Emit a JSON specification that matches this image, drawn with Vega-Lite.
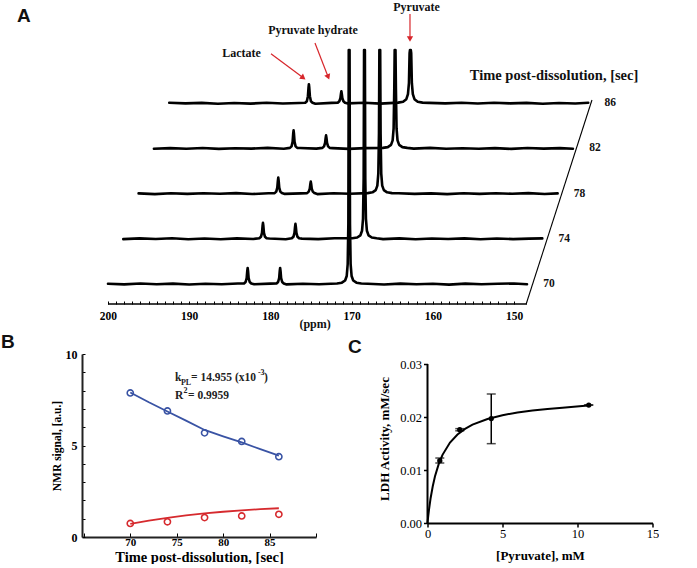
{
"$schema":"https://vega.github.io/schema/vega-lite/v6.json",
"background":"white",
"padding":{"left":1,"top":0,"right":0,"bottom":0},
"config":{"view":{"stroke":null},"font":"Liberation Serif","axis":{"domainColor":"black","tickColor":"black","labelColor":"black","titleColor":"black","grid":false,"labelFont":"Liberation Serif","titleFont":"Liberation Serif","labelOverlap":false}},
"datasets":{
"spec":[
{"t":70,"p":200,"i":0.3},{"t":70,"p":198,"i":-0.4},{"t":70,"p":196,"i":0.5},{"t":70,"p":194,"i":-0.2},{"t":70,"p":192,"i":0.4},{"t":70,"p":190,"i":-0.5},{"t":70,"p":188,"i":0.2},{"t":70,"p":186,"i":-0.3},{"t":70,"p":184,"i":0.5},
{"t":70,"p":183.25,"i":0.5},{"t":70,"p":183.05,"i":2},{"t":70,"p":182.92,"i":6},{"t":70,"p":182.85,"i":12.8},{"t":70,"p":182.8,"i":16},{"t":70,"p":182.75,"i":12.8},{"t":70,"p":182.68,"i":6},{"t":70,"p":182.55,"i":2},{"t":70,"p":182.35,"i":0.5},
{"t":70,"p":182,"i":-0.2},{"t":70,"p":180,"i":0.4},
{"t":70,"p":179.25,"i":0.5},{"t":70,"p":179.05,"i":2},{"t":70,"p":178.92,"i":6},{"t":70,"p":178.85,"i":12.8},{"t":70,"p":178.8,"i":16},{"t":70,"p":178.75,"i":12.8},{"t":70,"p":178.68,"i":6},{"t":70,"p":178.55,"i":2},{"t":70,"p":178.35,"i":0.5},
{"t":70,"p":178,"i":-0.4},{"t":70,"p":176,"i":0.2},{"t":70,"p":174,"i":-0.3},
{"t":70,"p":171.8,"i":0.5},{"t":70,"p":171.2,"i":1.3},{"t":70,"p":170.8,"i":3.5},{"t":70,"p":170.6,"i":8},{"t":70,"p":170.48,"i":20},{"t":70,"p":170.4,"i":60},{"t":70,"p":170.35,"i":250},{"t":70,"p":170.3,"i":1000},{"t":70,"p":170.25,"i":250},{"t":70,"p":170.2,"i":60},{"t":70,"p":170.12,"i":20},{"t":70,"p":170,"i":8},{"t":70,"p":169.8,"i":3.5},{"t":70,"p":169.4,"i":1.3},{"t":70,"p":168.8,"i":0.5},
{"t":70,"p":168,"i":0.3},{"t":70,"p":166,"i":-0.5},{"t":70,"p":164,"i":0.4},{"t":70,"p":162,"i":-0.2},{"t":70,"p":160,"i":0.3},{"t":70,"p":158,"i":-0.6},{"t":70,"p":156,"i":0.4},{"t":70,"p":154,"i":-0.3},{"t":70,"p":152,"i":0.2},{"t":70,"p":150,"i":0.5},{"t":70,"p":148.4,"i":-0.2},

{"t":74,"p":200,"i":-0.3},{"t":74,"p":198,"i":0.4},{"t":74,"p":196,"i":-0.2},{"t":74,"p":194,"i":0.5},{"t":74,"p":192,"i":-0.4},{"t":74,"p":190,"i":0.3},{"t":74,"p":188,"i":-0.5},{"t":74,"p":186,"i":0.4},{"t":74,"p":184,"i":-0.2},
{"t":74,"p":183.25,"i":0.5},{"t":74,"p":183.05,"i":2},{"t":74,"p":182.92,"i":6},{"t":74,"p":182.85,"i":12.8},{"t":74,"p":182.8,"i":16},{"t":74,"p":182.75,"i":12.8},{"t":74,"p":182.68,"i":6},{"t":74,"p":182.55,"i":2},{"t":74,"p":182.35,"i":0.5},
{"t":74,"p":182,"i":0.3},{"t":74,"p":180,"i":-0.4},
{"t":74,"p":179.25,"i":0.5},{"t":74,"p":179.05,"i":2},{"t":74,"p":178.92,"i":6},{"t":74,"p":178.85,"i":12},{"t":74,"p":178.8,"i":15},{"t":74,"p":178.75,"i":12},{"t":74,"p":178.68,"i":6},{"t":74,"p":178.55,"i":2},{"t":74,"p":178.35,"i":0.5},
{"t":74,"p":178,"i":0.2},{"t":74,"p":176,"i":-0.3},{"t":74,"p":174,"i":0.5},
{"t":74,"p":171.8,"i":0.5},{"t":74,"p":171.2,"i":1.3},{"t":74,"p":170.8,"i":3.5},{"t":74,"p":170.6,"i":8},{"t":74,"p":170.48,"i":20},{"t":74,"p":170.4,"i":60},{"t":74,"p":170.35,"i":250},{"t":74,"p":170.3,"i":1000},{"t":74,"p":170.25,"i":250},{"t":74,"p":170.2,"i":60},{"t":74,"p":170.12,"i":20},{"t":74,"p":170,"i":8},{"t":74,"p":169.8,"i":3.5},{"t":74,"p":169.4,"i":1.3},{"t":74,"p":168.8,"i":0.5},
{"t":74,"p":168,"i":-0.3},{"t":74,"p":166,"i":0.4},{"t":74,"p":164,"i":-0.5},{"t":74,"p":162,"i":0.3},{"t":74,"p":160,"i":-0.2},{"t":74,"p":158,"i":0.4},{"t":74,"p":156,"i":-0.4},{"t":74,"p":154,"i":0.3},{"t":74,"p":152,"i":-0.3},{"t":74,"p":150,"i":0.2},{"t":74,"p":148.4,"i":0.4},

{"t":78,"p":200,"i":0.2},{"t":78,"p":198,"i":-0.5},{"t":78,"p":196,"i":0.4},{"t":78,"p":194,"i":-0.3},{"t":78,"p":192,"i":0.3},{"t":78,"p":190,"i":-0.2},{"t":78,"p":188,"i":0.5},{"t":78,"p":186,"i":-0.4},{"t":78,"p":184,"i":0.3},
{"t":78,"p":183.25,"i":0.5},{"t":78,"p":183.05,"i":2},{"t":78,"p":182.92,"i":6},{"t":78,"p":182.85,"i":12.8},{"t":78,"p":182.8,"i":16},{"t":78,"p":182.75,"i":12.8},{"t":78,"p":182.68,"i":6},{"t":78,"p":182.55,"i":2},{"t":78,"p":182.35,"i":0.5},
{"t":78,"p":182,"i":-0.3},{"t":78,"p":180,"i":0.2},
{"t":78,"p":179.25,"i":0.5},{"t":78,"p":179.05,"i":2},{"t":78,"p":178.92,"i":5},{"t":78,"p":178.85,"i":9.6},{"t":78,"p":178.8,"i":12},{"t":78,"p":178.75,"i":9.6},{"t":78,"p":178.68,"i":5},{"t":78,"p":178.55,"i":2},{"t":78,"p":178.35,"i":0.5},
{"t":78,"p":178,"i":-0.5},{"t":78,"p":176,"i":0.4},{"t":78,"p":174,"i":-0.2},
{"t":78,"p":171.8,"i":0.5},{"t":78,"p":171.2,"i":1.3},{"t":78,"p":170.8,"i":3.5},{"t":78,"p":170.6,"i":8},{"t":78,"p":170.48,"i":20},{"t":78,"p":170.4,"i":60},{"t":78,"p":170.35,"i":250},{"t":78,"p":170.3,"i":1000},{"t":78,"p":170.25,"i":250},{"t":78,"p":170.2,"i":60},{"t":78,"p":170.12,"i":20},{"t":78,"p":170,"i":8},{"t":78,"p":169.8,"i":3.5},{"t":78,"p":169.4,"i":1.3},{"t":78,"p":168.8,"i":0.5},
{"t":78,"p":168,"i":0.4},{"t":78,"p":166,"i":-0.3},{"t":78,"p":164,"i":0.2},{"t":78,"p":162,"i":-0.5},{"t":78,"p":160,"i":0.4},{"t":78,"p":158,"i":-0.3},{"t":78,"p":156,"i":0.3},{"t":78,"p":154,"i":-0.2},{"t":78,"p":152,"i":0.5},{"t":78,"p":150,"i":-0.4},{"t":78,"p":148.4,"i":0.2},

{"t":82,"p":200,"i":-0.4},{"t":82,"p":198,"i":0.3},{"t":82,"p":196,"i":-0.3},{"t":82,"p":194,"i":0.4},{"t":82,"p":192,"i":-0.5},{"t":82,"p":190,"i":0.2},{"t":82,"p":188,"i":-0.2},{"t":82,"p":186,"i":0.5},{"t":82,"p":184,"i":-0.3},
{"t":82,"p":183.25,"i":0.5},{"t":82,"p":183.05,"i":2},{"t":82,"p":182.92,"i":6.5},{"t":82,"p":182.85,"i":14.4},{"t":82,"p":182.8,"i":18},{"t":82,"p":182.75,"i":14.4},{"t":82,"p":182.68,"i":6.5},{"t":82,"p":182.55,"i":2},{"t":82,"p":182.35,"i":0.5},
{"t":82,"p":182,"i":0.4},{"t":82,"p":180,"i":-0.2},
{"t":82,"p":179.25,"i":0.5},{"t":82,"p":179.05,"i":2},{"t":82,"p":178.92,"i":5.5},{"t":82,"p":178.85,"i":10.4},{"t":82,"p":178.8,"i":13},{"t":82,"p":178.75,"i":10.4},{"t":82,"p":178.68,"i":5.5},{"t":82,"p":178.55,"i":2},{"t":82,"p":178.35,"i":0.5},
{"t":82,"p":178,"i":0.3},{"t":82,"p":176,"i":-0.5},{"t":82,"p":174,"i":0.3},
{"t":82,"p":171.8,"i":0.5},{"t":82,"p":171.2,"i":1.3},{"t":82,"p":170.8,"i":3.5},{"t":82,"p":170.6,"i":8},{"t":82,"p":170.48,"i":20},{"t":82,"p":170.4,"i":60},{"t":82,"p":170.35,"i":250},{"t":82,"p":170.3,"i":1000},{"t":82,"p":170.25,"i":250},{"t":82,"p":170.2,"i":60},{"t":82,"p":170.12,"i":20},{"t":82,"p":170,"i":8},{"t":82,"p":169.8,"i":3.5},{"t":82,"p":169.4,"i":1.3},{"t":82,"p":168.8,"i":0.5},
{"t":82,"p":168,"i":-0.2},{"t":82,"p":166,"i":0.5},{"t":82,"p":164,"i":-0.3},{"t":82,"p":162,"i":0.2},{"t":82,"p":160,"i":-0.4},{"t":82,"p":158,"i":0.3},{"t":82,"p":156,"i":-0.5},{"t":82,"p":154,"i":0.4},{"t":82,"p":152,"i":-0.2},{"t":82,"p":150,"i":0.3},{"t":82,"p":148.4,"i":-0.3},

{"t":86,"p":200,"i":0.4},{"t":86,"p":198,"i":-0.2},{"t":86,"p":196,"i":0.3},{"t":86,"p":194,"i":-0.5},{"t":86,"p":192,"i":0.2},{"t":86,"p":190,"i":-0.4},{"t":86,"p":188,"i":0.4},{"t":86,"p":186,"i":-0.3},{"t":86,"p":184,"i":0.2},
{"t":86,"p":183.25,"i":0.5},{"t":86,"p":183.05,"i":2},{"t":86,"p":182.92,"i":7},{"t":86,"p":182.85,"i":15.2},{"t":86,"p":182.8,"i":19},{"t":86,"p":182.75,"i":15.2},{"t":86,"p":182.68,"i":7},{"t":86,"p":182.55,"i":2},{"t":86,"p":182.35,"i":0.5},
{"t":86,"p":182,"i":-0.5},{"t":86,"p":180,"i":0.3},
{"t":86,"p":179.25,"i":0.5},{"t":86,"p":179.05,"i":2},{"t":86,"p":178.92,"i":5},{"t":86,"p":178.85,"i":9.6},{"t":86,"p":178.8,"i":12},{"t":86,"p":178.75,"i":9.6},{"t":86,"p":178.68,"i":5},{"t":86,"p":178.55,"i":2},{"t":86,"p":178.35,"i":0.5},
{"t":86,"p":178,"i":-0.2},{"t":86,"p":176,"i":0.4},{"t":86,"p":174,"i":-0.4},
{"t":86,"p":171.8,"i":0.6},{"t":86,"p":171.2,"i":1.5},{"t":86,"p":170.8,"i":4},{"t":86,"p":170.6,"i":9},{"t":86,"p":170.48,"i":20},{"t":86,"p":170.4,"i":50},{"t":86,"p":170.35,"i":200},{"t":86,"p":170.3,"i":1000},{"t":86,"p":170.25,"i":200},{"t":86,"p":170.2,"i":50},{"t":86,"p":170.12,"i":20},{"t":86,"p":170,"i":9},{"t":86,"p":169.8,"i":4},{"t":86,"p":169.4,"i":1.5},{"t":86,"p":168.8,"i":0.6},
{"t":86,"p":168,"i":0.3},{"t":86,"p":166,"i":-0.2},{"t":86,"p":164,"i":0.5},{"t":86,"p":162,"i":-0.3},{"t":86,"p":160,"i":0.4},{"t":86,"p":158,"i":-0.2},{"t":86,"p":156,"i":0.3},{"t":86,"p":154,"i":-0.5},{"t":86,"p":152,"i":0.2},{"t":86,"p":150,"i":-0.3},{"t":86,"p":148.4,"i":0.4}
],
"times":[{"t":70},{"t":74},{"t":78},{"t":82},{"t":86}],
"fitB":[
{"s":"Pyruvate","t":70,"v":7.9},{"s":"Pyruvate","t":72,"v":7.36},{"s":"Pyruvate","t":74,"v":6.86},{"s":"Pyruvate","t":76,"v":6.36},{"s":"Pyruvate","t":78,"v":5.85},{"s":"Pyruvate","t":80,"v":5.5},{"s":"Pyruvate","t":82,"v":5.17},{"s":"Pyruvate","t":84,"v":4.8},{"s":"Pyruvate","t":86,"v":4.45},
{"s":"Lactate","t":70,"v":0.72},{"s":"Lactate","t":72,"v":0.9},{"s":"Lactate","t":74,"v":1.05},{"s":"Lactate","t":76,"v":1.18},{"s":"Lactate","t":78,"v":1.29},{"s":"Lactate","t":80,"v":1.38},{"s":"Lactate","t":82,"v":1.46},{"s":"Lactate","t":84,"v":1.52},{"s":"Lactate","t":86,"v":1.57}
],
"obsB":[
{"s":"Pyruvate","t":70,"v":7.87},{"s":"Pyruvate","t":74,"v":6.89},{"s":"Pyruvate","t":78,"v":5.69},{"s":"Pyruvate","t":82,"v":5.22},{"s":"Pyruvate","t":86,"v":4.39},
{"s":"Lactate","t":70,"v":0.74},{"s":"Lactate","t":74,"v":0.83},{"s":"Lactate","t":78,"v":1.06},{"s":"Lactate","t":82,"v":1.15},{"s":"Lactate","t":86,"v":1.24}
],
"curveC":[
{"s":0,"v":0},{"s":0.05,"v":0.00132},{"s":0.1,"v":0.0025},{"s":0.2,"v":0.00457},{"s":0.35,"v":0.00694},{"s":0.5,"v":0.00881},{"s":0.75,"v":0.01116},{"s":1,"v":0.01286},{"s":1.5,"v":0.01519},{"s":2,"v":0.0167},{"s":2.5,"v":0.01776},{"s":3,"v":0.01855},{"s":4,"v":0.01963},{"s":5,"v":0.02034},{"s":6,"v":0.02085},{"s":7,"v":0.02122},{"s":8,"v":0.02151},{"s":9,"v":0.02175},{"s":10.7,"v":0.02215}
],
"obsC":[
{"s":0.82,"v":0.01176,"lo":0.01132,"hi":0.01226},{"s":2.15,"v":0.0176,"lo":0.0174,"hi":0.0178},{"s":4.25,"v":0.0197,"lo":0.01497,"hi":0.02434},{"s":10.75,"v":0.02226,"lo":0.02226,"hi":0.02226}
]
},
"spacing":2,
"vconcat":[
 {"width":445,"height":254,
  "resolve":{"scale":{"y":"independent"},"axis":{"x":"independent"}},
  "layer":[
   {"data":{"name":"spec"},
    "transform":[{"calculate":"datum.p - (datum.t - 70) * 0.4713","as":"ppm"},{"calculate":"datum.i + 20 + (datum.t - 70) * 11.3","as":"h"}],
    "mark":{"type":"line","color":"black","strokeWidth":2.6,"strokeJoin":"round","strokeCap":"round"},
    "encoding":{
     "x":{"field":"ppm","type":"quantitative","scale":{"domain":[148.4,203.2],"reverse":true,"nice":false,"zero":false},
      "axis":{"orient":"bottom","values":[150,151,152,153,154,155,156,157,158,159,160,161,162,163,164,165,166,167,168,169,170,171,172,173,174,175,176,177,178,179,180,181,182,183,184,185,186,187,188,189,190,191,192,193,194,195,196,197,198,199,200],
       "labels":false,"tickSize":-3,"tickWidth":1,"domain":false,"title":null}},
     "y":{"field":"h","type":"quantitative","scale":{"domain":[0,254],"clamp":true,"nice":false,"zero":false},"axis":null},
     "detail":{"field":"t","type":"nominal"}
    }},
   {"encoding":{
     "x":{"field":"ppm","type":"quantitative","scale":{"domain":[148.4,203.2],"reverse":true,"nice":false,"zero":false},
      "axis":{"orient":"bottom","values":[150,160,170,180,190,200],"ticks":false,"domain":false,"labelFlush":false,"labelOverlap":false,"labelFontWeight":"bold","labelFontSize":11.5,"labelBaseline":"middle","labelPadding":12,"title":null}},
     "y":{"field":"h","type":"quantitative","scale":{"domain":[0,254],"nice":false,"zero":false},"axis":null}},
    "layer":[
     {"data":{"values":[{"ppm":200,"ppm2":148.4,"h":0}]},"mark":{"type":"rule","color":"black","strokeWidth":1.5},"encoding":{"x2":{"field":"ppm2"}}},
     {"data":{"values":[{"label":"(ppm)","ppm":174.5,"h":-20}]},
      "mark":{"type":"text","align":"center","baseline":"middle","fontWeight":"bold","fontSize":12,"color":"#111"},
      "encoding":{"text":{"field":"label","type":"nominal"}}},
     {"data":{"values":[{"ppm":148.5,"h":0},{"ppm":140.4,"h":204}]},"mark":{"type":"line","color":"black","strokeWidth":1.1}},
     {"data":{"name":"times"},
      "transform":[{"calculate":"148.4 - (datum.t - 70) * 0.4713 - 2","as":"ppm"},{"calculate":"20 + (datum.t - 70) * 11.3","as":"h"}],
      "mark":{"type":"text","align":"left","baseline":"middle","fontWeight":"bold","fontSize":11.5,"color":"#111"},
      "encoding":{"text":{"field":"t","type":"nominal"}}},
     {"data":{"values":[{"label":"Lactate","ppm":183.56,"h":251},{"label":"Pyruvate hydrate","ppm":174.75,"h":274},{"label":"Pyruvate","ppm":162.0,"h":297.5}]},
      "mark":{"type":"text","align":"center","baseline":"middle","fontWeight":"bold","fontSize":12,"color":"#111"},
      "encoding":{"text":{"field":"label","type":"nominal"}}},
     {"data":{"values":[{"label":"Time post-dissolution, [sec]","ppm":145.07,"h":228}]},
      "mark":{"type":"text","align":"center","baseline":"middle","fontWeight":"bold","fontSize":14.5,"color":"#111"},
      "encoding":{"text":{"field":"label","type":"nominal"}}},
     {"data":{"values":[{"ppm":179.93,"h":250.3,"ppm2":176.04,"h2":226.8},{"ppm":174.51,"h":261,"ppm2":172.92,"h2":227.8},{"ppm":162.81,"h":290,"ppm2":162.81,"h2":266}]},
      "mark":{"type":"rule","color":"#d7262b","strokeWidth":1.2},
      "encoding":{"x2":{"field":"ppm2"},"y2":{"field":"h2"}}},
     {"data":{"values":[{"ppm":176.04,"h":226.8}]},"mark":{"type":"point","shape":"triangle","angle":127,"filled":true,"color":"#d7262b","size":40,"opacity":1}},
     {"data":{"values":[{"ppm":172.92,"h":227.8}]},"mark":{"type":"point","shape":"triangle","angle":158,"filled":true,"color":"#d7262b","size":40,"opacity":1}},
     {"data":{"values":[{"ppm":162.81,"h":266}]},"mark":{"type":"point","shape":"triangle","angle":180,"filled":true,"color":"#d7262b","size":40,"opacity":1}},
     {"data":{"values":[{"label":"A","ppm":211.2,"h":282}]},
      "mark":{"type":"text","align":"left","baseline":"alphabetic","font":"Liberation Sans","fontWeight":"bold","fontSize":19,"color":"#111"},
      "encoding":{"text":{"field":"label","type":"nominal"}}}
    ]}
  ]},
 {"bounds":"flush","spacing":111.5,"hconcat":[
 {"width":234,"height":183,
  "encoding":{
   "x":{"field":"t","type":"quantitative","scale":{"domain":[64.8,90],"nice":false,"zero":false},
    "axis":{"values":[65,70,75,80,85,90],"labelExpr":"datum.value >= 70 && datum.value <= 85 ? datum.label : ''","labelFlush":false,"labelOverlap":false,"tickSize":-4,"tickWidth":1,"labelPadding":9,"labelBaseline":"middle","labelFontWeight":"bold","labelFontSize":11,"domainWidth":2,"domainColor":"#222","title":"Time post-dissolution, [sec]","titleFontSize":14.5,"titleFontWeight":"bold","titlePadding":3}},
   "y":{"field":"v","type":"quantitative","scale":{"domain":[0,10],"nice":false},
    "axis":{"values":[0,1,2,3,4,5,6,7,8,9,10],"labelExpr":"datum.value % 5 === 0 ? datum.label : ''","labelOverlap":false,"labelFlush":false,"tickSize":-3,"tickWidth":1,"labelPadding":8,"labelFontWeight":"bold","labelFontSize":12,"domainWidth":2,"domainColor":"#222","title":"NMR signal, [a.u.]","titleFontSize":11.5,"titleFontWeight":"bold","titlePadding":3}}},
  "layer":[
   {"data":{"name":"fitB"},"mark":{"type":"line","strokeWidth":1.8},
    "encoding":{"color":{"field":"s","type":"nominal","scale":{"domain":["Pyruvate","Lactate"],"range":["#3953a4","#d62a2e"]},"legend":null}}},
   {"data":{"name":"obsB"},"mark":{"type":"point","shape":"circle","filled":false,"strokeWidth":1.6,"size":38,"opacity":1},
    "encoding":{"color":{"field":"s","type":"nominal","scale":{"domain":["Pyruvate","Lactate"],"range":["#3953a4","#d62a2e"]},"legend":null}}},
   {"data":{"values":[{"t":74.81,"v":8.52}]},
    "layer":[
     {"mark":{"type":"text","text":"k","align":"left","baseline":"alphabetic","fontWeight":"bold","fontSize":11.5,"color":"#222"}},
     {"mark":{"type":"text","text":"PL","align":"left","baseline":"alphabetic","fontWeight":"bold","fontSize":8,"dx":6,"dy":4,"color":"#222"}},
     {"mark":{"type":"text","text":"= 14.955 (x10","align":"left","baseline":"alphabetic","fontWeight":"bold","fontSize":11.5,"dx":16,"color":"#222"}},
     {"mark":{"type":"text","text":"-3","align":"left","baseline":"alphabetic","fontWeight":"bold","fontSize":8,"dx":83,"dy":-6,"color":"#222"}},
     {"mark":{"type":"text","text":")","align":"left","baseline":"alphabetic","fontWeight":"bold","fontSize":11.5,"dx":89,"color":"#222"}}
    ]},
   {"data":{"values":[{"t":74.81,"v":7.54}]},
    "layer":[
     {"mark":{"type":"text","text":"R","align":"left","baseline":"alphabetic","fontWeight":"bold","fontSize":11.5,"color":"#222"}},
     {"mark":{"type":"text","text":"2","align":"left","baseline":"alphabetic","fontWeight":"bold","fontSize":8,"dx":8.5,"dy":-6,"color":"#222"}},
     {"mark":{"type":"text","text":"= 0.9959","align":"left","baseline":"alphabetic","fontWeight":"bold","fontSize":11.5,"dx":13,"color":"#222"}}
    ]},
   {"data":{"values":[{"t":56.08,"v":10.33}]},
    "mark":{"type":"text","text":"B","align":"left","baseline":"alphabetic","font":"Liberation Sans","fontWeight":"bold","fontSize":19,"color":"#111"}}
  ]},
 {"width":225,"height":169,
  "encoding":{
   "x":{"field":"s","type":"quantitative","scale":{"domain":[0,15],"nice":false},
    "axis":{"values":[0,5,10,15],"labelFlush":false,"tickSize":4,"tickWidth":1.5,"labelPadding":6,"labelBaseline":"middle","labelFontSize":12.5,"domainWidth":2,"title":"[Pyruvate], mM","titleFontWeight":"bold","titleFontSize":13,"titlePadding":10}},
   "y":{"field":"v","type":"quantitative","scale":{"domain":[0,0.031887],"nice":false},
    "axis":{"values":[0,0.01,0.02,0.03],"format":".2f","labelFlush":false,"tickSize":4,"tickWidth":1.5,"labelPadding":2,"labelFontSize":12.5,"domain":false,"title":"LDH Activity, mM/sec","titleFontWeight":"bold","titleFontSize":13,"titlePadding":8}}},
  "layer":[
   {"data":{"values":[{"s":0,"v":0,"v2":0.03}]},"mark":{"type":"rule","color":"black","strokeWidth":2},"encoding":{"y2":{"field":"v2"}}},
   {"data":{"name":"curveC"},"mark":{"type":"line","color":"black","strokeWidth":2}},
   {"data":{"name":"obsC"},"mark":{"type":"rule","color":"black","strokeWidth":1.5},
    "encoding":{"y":{"field":"lo","type":"quantitative","scale":{"domain":[0,0.031887],"nice":false}},"y2":{"field":"hi"}}},
   {"data":{"name":"obsC"},"mark":{"type":"tick","orient":"horizontal","color":"black","size":9,"thickness":1.5},
    "encoding":{"y":{"field":"lo","type":"quantitative","scale":{"domain":[0,0.031887],"nice":false}}}},
   {"data":{"name":"obsC"},"mark":{"type":"tick","orient":"horizontal","color":"black","size":9,"thickness":1.5},
    "encoding":{"y":{"field":"hi","type":"quantitative","scale":{"domain":[0,0.031887],"nice":false}}}},
   {"data":{"name":"obsC"},"mark":{"type":"circle","color":"black","size":28,"opacity":1}},
   {"data":{"values":[{"s":-5.3,"v":0.03208}]},
    "mark":{"type":"text","text":"C","align":"left","baseline":"alphabetic","font":"Liberation Sans","fontWeight":"bold","fontSize":19,"color":"#111"}}
  ]}
 ]}
]
}
